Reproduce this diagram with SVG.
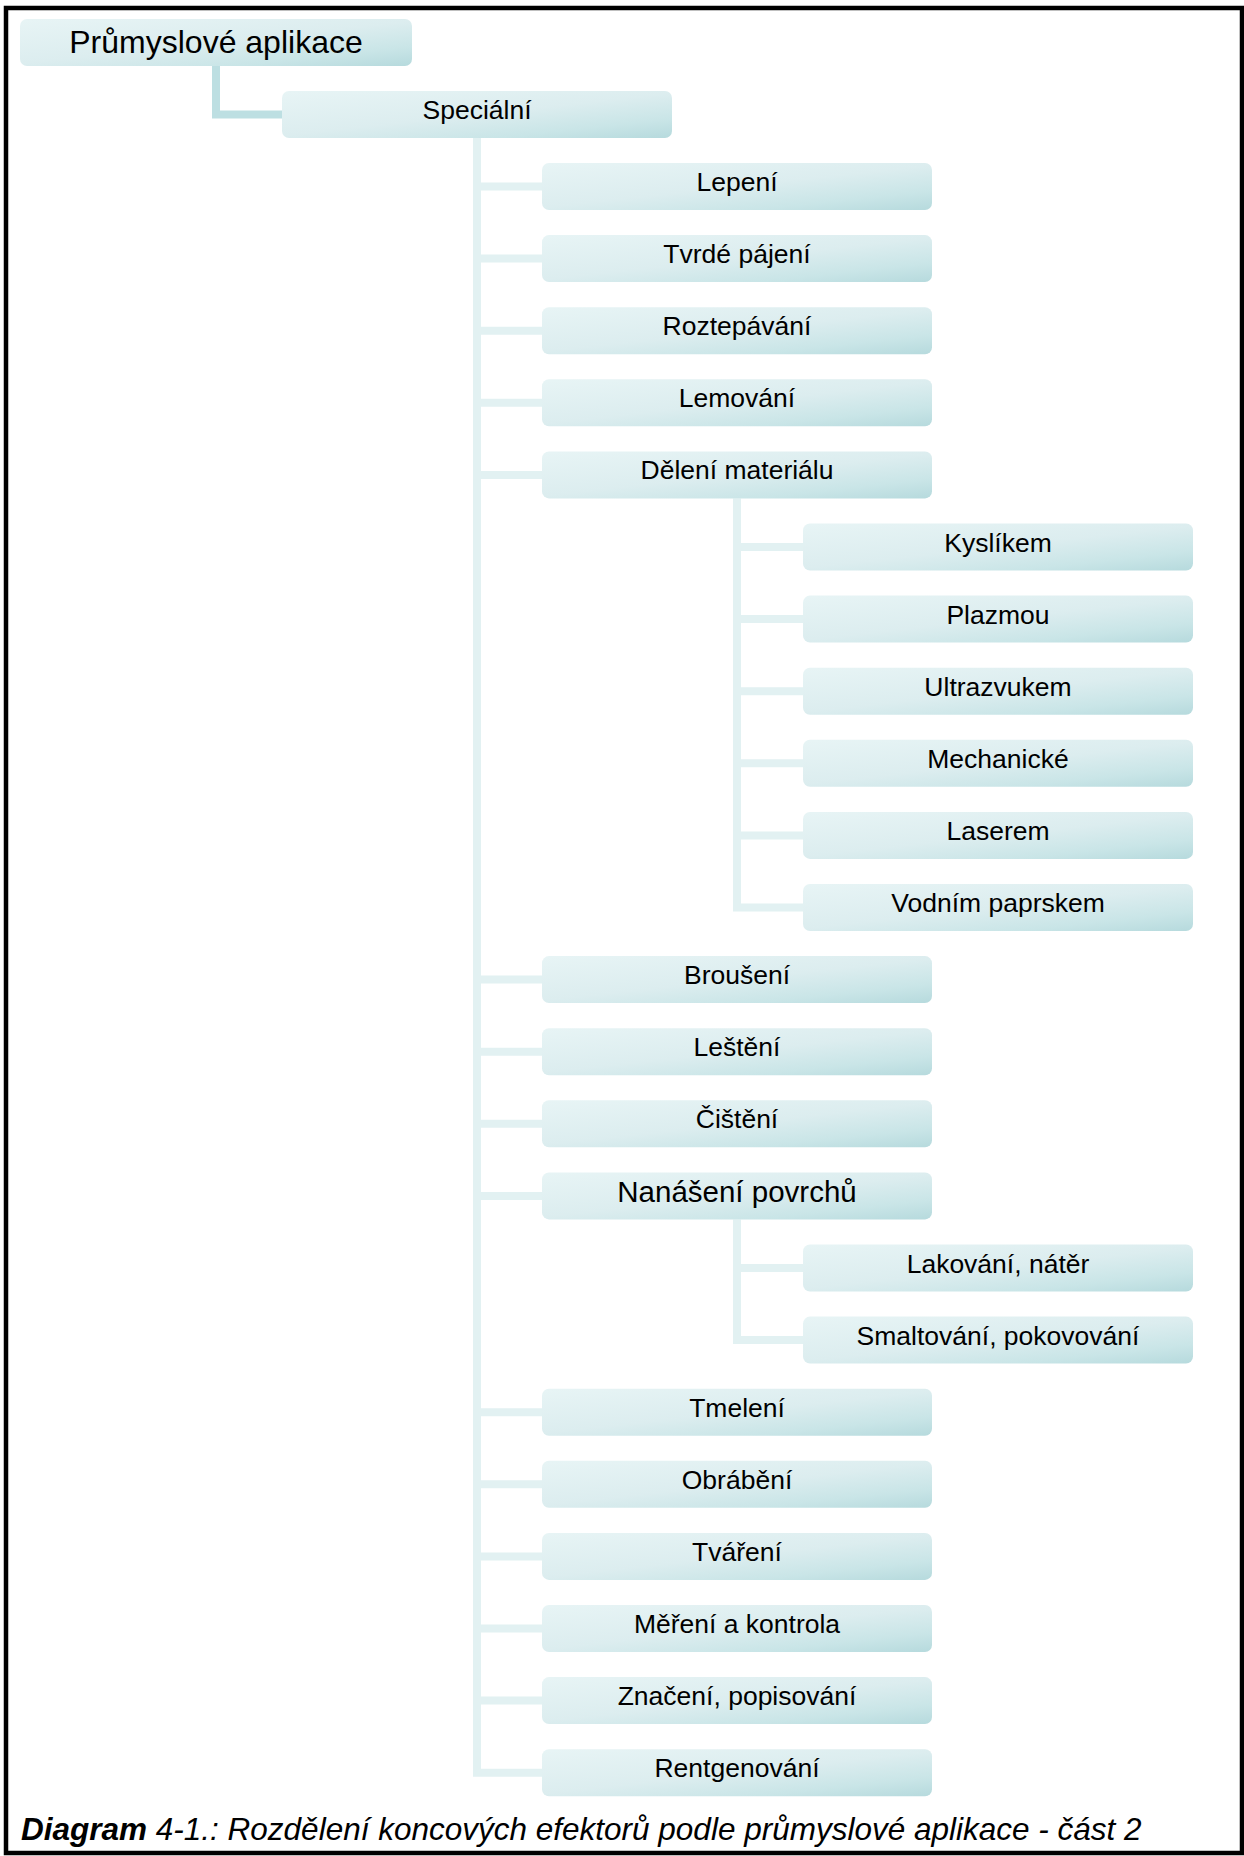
<svg xmlns="http://www.w3.org/2000/svg" width="1244" height="1856" viewBox="0 0 1244 1856">
<defs>
<linearGradient id="bg" x1="0.05" y1="0" x2="0.95" y2="1">
<stop offset="0" stop-color="#e7f4f5"/>
<stop offset="0.5" stop-color="#dcedef"/>
<stop offset="0.8" stop-color="#c9e5e7"/>
<stop offset="1" stop-color="#b8dbde"/>
</linearGradient>
<style>
.box{fill:url(#bg);}
.t{font-family:"Liberation Sans",Arial,sans-serif;font-size:26.5px;fill:#000;text-anchor:middle;}
.big{font-size:29.5px;}
.root{font-size:32px;}
.c{fill:none;stroke:#e2f1f2;stroke-width:8;stroke-linejoin:miter;stroke-linecap:butt;}
.c0{stroke:#bddfe2;}
.cap{font-family:"Liberation Sans",Arial,sans-serif;font-size:31.5px;font-style:italic;fill:#000;}
</style>
</defs>
<rect x="0" y="0" width="1244" height="1856" fill="#fff"/>
<rect x="6" y="8" width="1236" height="1845" fill="none" stroke="#000" stroke-width="4.5"/>
<g id="connectors">
<path class="c c0" d="M216,66 V114.5 H282"/>
<path class="c" d="M477,138 V1772.7 H542"/>
<path class="c" d="M477,186.5 H542 M477,258.6 H542 M477,330.7 H542 M477,402.8 H542 M477,474.9 H542 M477,979.6 H542 M477,1051.7 H542 M477,1123.8 H542 M477,1195.9 H542 M477,1412.2 H542 M477,1484.3 H542 M477,1556.4 H542 M477,1628.5 H542 M477,1700.6 H542"/>
<path class="c" d="M737,498.4 V907.5 H803 M737,547 H803 M737,619.1 H803 M737,691.2 H803 M737,763.3 H803 M737,835.4 H803"/>
<path class="c" d="M737,1219.4 V1340.1 H803 M737,1268 H803"/>
</g>
<g id="n-root"><rect class="box" x="20" y="19" width="392" height="47" rx="7"/><text class="t root" x="216" y="52.5">Průmyslové aplikace</text></g>
<g id="n-specialni"><rect class="box" x="282" y="91" width="390" height="47" rx="7"/><text class="t" x="477" y="119">Speciální</text></g>
<g id="n-lepeni"><rect class="box" x="542" y="163" width="390" height="47" rx="7"/><text class="t" x="737" y="191">Lepení</text></g>
<g id="n-tvrde"><rect class="box" x="542" y="235.1" width="390" height="47" rx="7"/><text class="t" x="737" y="263.1">Tvrdé pájení</text></g>
<g id="n-roztep"><rect class="box" x="542" y="307.2" width="390" height="47" rx="7"/><text class="t" x="737" y="335.2">Roztepávání</text></g>
<g id="n-lemovani"><rect class="box" x="542" y="379.3" width="390" height="47" rx="7"/><text class="t" x="737" y="407.3">Lemování</text></g>
<g id="n-deleni"><rect class="box" x="542" y="451.4" width="390" height="47" rx="7"/><text class="t" x="737" y="479.4">Dělení materiálu</text></g>
<g id="n-kyslikem"><rect class="box" x="803" y="523.5" width="390" height="47" rx="7"/><text class="t" x="998" y="551.5">Kyslíkem</text></g>
<g id="n-plazmou"><rect class="box" x="803" y="595.6" width="390" height="47" rx="7"/><text class="t" x="998" y="623.6">Plazmou</text></g>
<g id="n-ultra"><rect class="box" x="803" y="667.7" width="390" height="47" rx="7"/><text class="t" x="998" y="695.7">Ultrazvukem</text></g>
<g id="n-mech"><rect class="box" x="803" y="739.8" width="390" height="47" rx="7"/><text class="t" x="998" y="767.8">Mechanické</text></g>
<g id="n-laserem"><rect class="box" x="803" y="811.9" width="390" height="47" rx="7"/><text class="t" x="998" y="839.9">Laserem</text></g>
<g id="n-vodnim"><rect class="box" x="803" y="884" width="390" height="47" rx="7"/><text class="t" x="998" y="912">Vodním paprskem</text></g>
<g id="n-brouseni"><rect class="box" x="542" y="956.1" width="390" height="47" rx="7"/><text class="t" x="737" y="984.1">Broušení</text></g>
<g id="n-lesteni"><rect class="box" x="542" y="1028.2" width="390" height="47" rx="7"/><text class="t" x="737" y="1056.2">Leštění</text></g>
<g id="n-cisteni"><rect class="box" x="542" y="1100.3" width="390" height="47" rx="7"/><text class="t" x="737" y="1128.3">Čištění</text></g>
<g id="n-nanaseni"><rect class="box" x="542" y="1172.4" width="390" height="47" rx="7"/><text class="t big" x="737" y="1202">Nanášení povrchů</text></g>
<g id="n-lakovani"><rect class="box" x="803" y="1244.5" width="390" height="47" rx="7"/><text class="t" x="998" y="1272.5">Lakování, nátěr</text></g>
<g id="n-smaltovani"><rect class="box" x="803" y="1316.6" width="390" height="47" rx="7"/><text class="t" x="998" y="1344.6">Smaltování, pokovování</text></g>
<g id="n-tmeleni"><rect class="box" x="542" y="1388.7" width="390" height="47" rx="7"/><text class="t" x="737" y="1416.7">Tmelení</text></g>
<g id="n-obrabeni"><rect class="box" x="542" y="1460.8" width="390" height="47" rx="7"/><text class="t" x="737" y="1488.8">Obrábění</text></g>
<g id="n-tvareni"><rect class="box" x="542" y="1532.9" width="390" height="47" rx="7"/><text class="t" x="737" y="1560.9">Tváření</text></g>
<g id="n-mereni"><rect class="box" x="542" y="1605" width="390" height="47" rx="7"/><text class="t" x="737" y="1633">Měření a kontrola</text></g>
<g id="n-znaceni"><rect class="box" x="542" y="1677.1" width="390" height="47" rx="7"/><text class="t" x="737" y="1705.1">Značení, popisování</text></g>
<g id="n-rentgen"><rect class="box" x="542" y="1749.2" width="390" height="47" rx="7"/><text class="t" x="737" y="1777.2">Rentgenování</text></g>
<text class="cap" x="21" y="1840"><tspan font-weight="bold">Diagram</tspan> 4-1.: Rozdělení koncových efektorů podle průmyslové aplikace - část 2</text>
</svg>
